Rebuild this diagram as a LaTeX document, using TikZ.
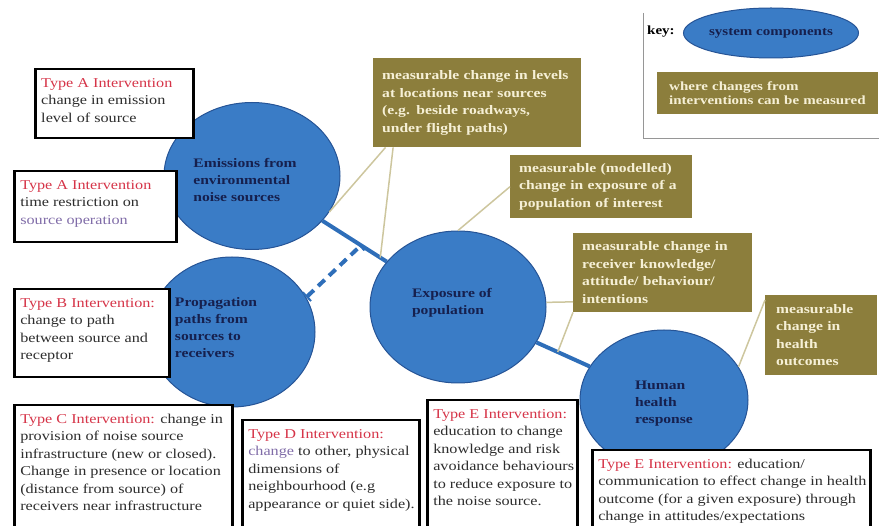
\documentclass[tikz,border=0pt]{standalone}
\usepackage{fontspec}
\setmainfont{Liberation Serif}[FakeStretch=1.2]
\usepackage{xcolor}
\usetikzlibrary{shapes.geometric,arrows.meta}

\definecolor{sysblue}{RGB}{58,124,198}
\definecolor{sysedge}{RGB}{38,84,150}
\definecolor{flowblue}{RGB}{46,110,185}
\definecolor{navytext}{RGB}{22,32,78}
\definecolor{olivebox}{RGB}{140,126,60}
\definecolor{creamtext}{RGB}{246,240,214}
\definecolor{tieline}{RGB}{205,198,158}
\definecolor{typered}{RGB}{214,52,72}
\definecolor{bodygray}{RGB}{45,45,45}
\definecolor{softpurple}{RGB}{128,108,168}
\definecolor{keyframe}{RGB}{150,150,150}

\newcommand{\itype}[1]{\textcolor{typered}{#1}}
\newcommand{\ibox}[3]{\parbox[t][#2][t]{#1}{\begin{tabular}[t]{@{}l@{}}#3\end{tabular}}}

\tikzset{
	sys/.style={ellipse,draw=sysedge,fill=sysblue,line width=1pt,inner sep=0pt},
	systxt/.style={font=\fontsize{13}{17}\selectfont\bfseries,text=navytext,align=left,inner sep=0pt},
	meas/.style={fill=olivebox,text=creamtext,font=\fontsize{13}{17.5}\selectfont\bfseries,
		align=left,anchor=north west,inner xsep=9pt,inner ysep=0pt},
	interv/.style={draw=black,line width=2.5pt,fill=white,text=bodygray,
		font=\fontsize{13.5}{17.5}\selectfont,anchor=north west,inner sep=6pt},
	flow/.style={draw=flowblue,line width=4pt},
	tie/.style={draw=tieline,line width=1.5pt}
}

\begin{document}
\begin{tikzpicture}[x=1pt,y=-1pt]
	\useasboundingbox (0,0) rectangle (879,526);

	\node[sys,minimum width=176,minimum height=147] (emis) at (252,176) {};
	\node[sys,minimum width=166,minimum height=150] (prop) at (232,332) {};
	\node[sys,minimum width=176,minimum height=152] (expo) at (458,307) {};
	\node[sys,minimum width=168,minimum height=140] (hum) at (664,400) {};

	\node[systxt,xshift=-7pt,yshift=-4pt] (emis-t) at (emis) {Emissions from\\environmental\\noise sources};
	\node[systxt,xshift=-16pt,yshift=4pt] (prop-t) at (prop) {Propagation\\paths from\\sources to\\receivers};
	\node[systxt,xshift=-6pt,yshift=4pt] (expo-t) at (expo) {Exposure of\\population};
	\node[systxt,yshift=-4pt] (hum-t) at (hum) {Human\\health\\response};

	\draw[flow] (emis) -- (expo) coordinate[pos=0.6] (junc) coordinate[pos=0.9] (near);
	\draw[flow] (expo) -- (hum) coordinate[pos=0.4] (jt);
	\draw[flow,dash pattern=on 9pt off 6pt,{Bar[width=12pt,line width=2pt]}-{Bar[width=12pt,line width=2pt]}] (prop.25) -- (junc);

	\node[meas,text width=190,minimum height=89] (meas1) at (373,58)
		{measurable change in levels\\at locations near sources\\(e.g. beside roadways,\\under flight paths)};
	\node[meas,text width=164,minimum height=63] (meas2) at (510,155)
		{measurable (modelled)\\change in exposure of a\\population of interest};
	\node[meas,text width=161,minimum height=79] (meas3) at (573,233)
		{measurable change in\\receiver knowledge/\\attitude/ behaviour/\\intentions};
	\node[meas,inner xsep=11pt,text width=90,minimum height=80] (meas4) at (765,295)
		{measurable\\change in\\health\\outcomes};

	\draw[tie] (meas1.-154) -- (emis.-25);
	\draw[tie] (meas1.-152) -- (near);
	\draw[tie] (meas2.west) -- (expo.north);
	\draw[tie] (meas3.-162) -- (expo.3);
	\draw[tie] (meas3.south west) -- (jt);
	\draw[tie] (meas4.148) -- (hum.24);

	\node[interv] (typeA1) at (34,68) {\ibox{146pt}{57pt}{\itype{Type A Intervention}\\change in emission\\level of source}};
	\node[interv] (typeA2) at (13,170) {\ibox{150pt}{59pt}{\itype{Type A Intervention}\\time restriction on\\\textcolor{softpurple}{source operation}}};
	\node[interv] (typeB) at (13,288) {\ibox{143pt}{76pt}{\itype{Type B Intervention:}\\change to path\\between source and\\receptor}};
	\node[interv] (typeC) at (13,404) {\ibox{206pt}{118pt}{\itype{Type C Intervention:} change in\\provision of noise source\\infrastructure (new or closed).\\Change in presence or location\\(distance from source) of\\receivers near infrastructure}};
	\node[interv] (typeD) at (241,419) {\ibox{165pt}{103pt}{\itype{Type D Intervention:}\\\textcolor{softpurple}{change} to other, physical\\dimensions of\\neighbourhood (e.g\\appearance or quiet side).}};
	\node[interv] (typeE1) at (426,399) {\ibox{138pt}{123pt}{\itype{Type E Intervention:}\\education to change\\knowledge and risk\\avoidance behaviours\\to reduce exposure to\\the noise source.}};
	\node[interv] (typeE2) at (591,449) {\ibox{266pt}{73pt}{\itype{Type E Intervention:} education/\\communication to effect change in health\\outcome (for a given exposure) through\\change in attitudes/expectations}};

	\draw[keyframe,line width=0.8pt] (643,13) -- (643,138) -- (879,138);
	\node[font=\fontsize{12.5}{14}\selectfont\bfseries,anchor=west,inner sep=0pt] (keylbl) at (647,32) {key:};
	\node[sys,minimum width=172,minimum height=50,font=\fontsize{12.5}{14}\selectfont\bfseries,text=navytext] (keysys) at (771,33) {system components};
	\node[meas,font=\fontsize{12.5}{14.5}\selectfont\bfseries,inner xsep=12pt,text width=197,minimum height=42] (keymeas) at (657,72)
		{where changes from\\interventions can be measured};
\end{tikzpicture}
\end{document}
